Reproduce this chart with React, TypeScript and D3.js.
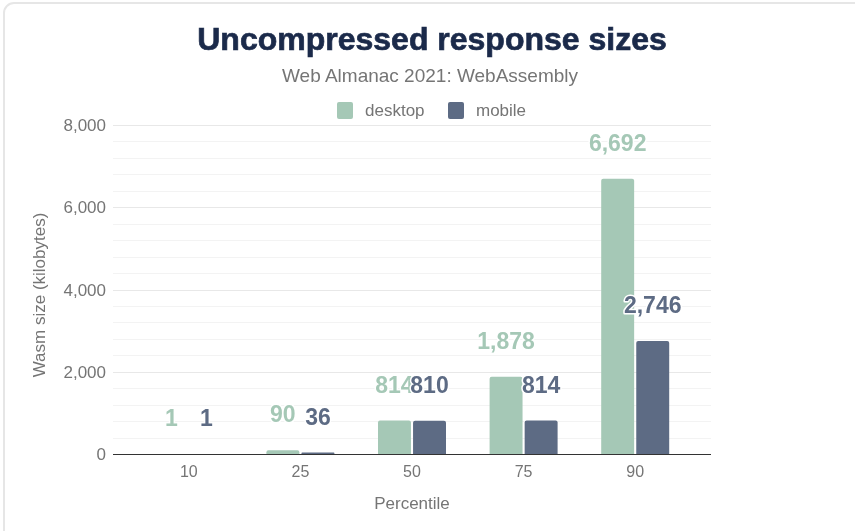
import * as d3 from "d3";
import { useEffect, useRef } from "react";

const percentiles = ["10", "25", "50", "75", "90"];
const desktop = [1, 90, 814, 1878, 6692];
const mobile = [1, 36, 810, 814, 2746];
const seriesNames = ["desktop", "mobile"];
const yTicks = [0, 2000, 4000, 6000, 8000];

const W = 855;
const H = 531;
const COLORS = ["#a5c8b6", "#5d6b84"];
const GRAY = "#757575";
const FONT = "'Liberation Sans', Arial, sans-serif";

export default function App() {
  const ref = useRef<SVGSVGElement | null>(null);

  useEffect(() => {
    if (!ref.current) return;
    const svg = d3.select(ref.current);
    svg.selectAll("*").remove();

    // card
    svg
      .append("rect")
      .attr("x", 4)
      .attr("y", 3)
      .attr("width", W + 10)
      .attr("height", H + 10)
      .attr("rx", 10)
      .attr("fill", "#fff")
      .attr("stroke", "#e6e6e6")
      .attr("stroke-width", 2);

    // titles
    svg
      .append("text")
      .attr("x", 432)
      .attr("y", 50)
      .attr("text-anchor", "middle")
      .attr("font-family", FONT)
      .attr("font-weight", 700)
      .attr("font-size", 32)
      .attr("fill", "#1b2a4a")
      .attr("stroke", "#1b2a4a")
      .attr("stroke-width", 0.7)
      .text("Uncompressed response sizes");

    svg
      .append("text")
      .attr("x", 430)
      .attr("y", 82)
      .attr("text-anchor", "middle")
      .attr("font-family", FONT)
      .attr("font-size", 19)
      .attr("fill", GRAY)
      .text("Web Almanac 2021: WebAssembly");

    // legend
    const legendX = [337, 448];
    seriesNames.forEach((name, i) => {
      const g = svg.append("g").attr("transform", `translate(${legendX[i]},102)`);
      g.append("rect")
        .attr("width", 16)
        .attr("height", 17)
        .attr("rx", 2)
        .attr("fill", COLORS[i]);
      g.append("text")
        .attr("x", 28)
        .attr("y", 14)
        .attr("font-family", FONT)
        .attr("font-size", 17)
        .attr("fill", GRAY)
        .text(name);
    });

    // scales
    const x = d3.scaleBand().domain(percentiles).range([133, 691]);
    const xSub = d3
      .scaleBand()
      .domain(seriesNames)
      .range([0, 68])
      .paddingInner(0.06);
    const y = d3.scaleLinear().domain([0, 8000]).range([454, 125]);
    const gridLeft = 113;
    const gridRight = 711;
    const barX = (i: number, si: number) =>
      (x(percentiles[i]) as number) + x.bandwidth() / 2 - 34 + (xSub(seriesNames[si]) as number);

    // grid
    const minor = d3.range(0, 8001, 400);
    svg
      .append("g")
      .selectAll("line")
      .data(minor)
      .join("line")
      .attr("x1", gridLeft)
      .attr("x2", gridRight)
      .attr("y1", (d) => Math.round(y(d)) + 0.5)
      .attr("y2", (d) => Math.round(y(d)) + 0.5)
      .attr("stroke", (d) => (d % 2000 === 0 ? "#e8e8e8" : "#f3f3f3"))
      .attr("stroke-width", 1);

    // y tick labels
    svg
      .append("g")
      .selectAll("text")
      .data(yTicks)
      .join("text")
      .attr("x", 106)
      .attr("y", (d) => y(d) + 6)
      .attr("text-anchor", "end")
      .attr("font-family", FONT)
      .attr("font-size", 17)
      .attr("fill", GRAY)
      .text((d) => d3.format(",")(d));

    // y title
    svg
      .append("text")
      .attr("transform", `translate(45,295) rotate(-90)`)
      .attr("text-anchor", "middle")
      .attr("font-family", FONT)
      .attr("font-size", 17)
      .attr("fill", GRAY)
      .text("Wasm size (kilobytes)");

    // bars
    const seriesData = [desktop, mobile];
    seriesData.forEach((vals, si) => {
      svg
        .append("g")
        .selectAll("path")
        .data(vals)
        .join("path")
        .attr("fill", COLORS[si])
        .attr("d", (d, i) => {
          const x0 = barX(i, si);
          const w = xSub.bandwidth();
          const top = y(d);
          const h = y(0) - top;
          const r = Math.min(2, h / 2);
          return `M${x0},${y(0)}V${top + r}Q${x0},${top} ${x0 + r},${top}H${x0 + w - r}Q${x0 + w},${top} ${x0 + w},${top + r}V${y(0)}Z`;
        });
    });

    // baseline
    svg
      .append("line")
      .attr("x1", gridLeft)
      .attr("x2", gridRight)
      .attr("y1", y(0) + 0.5)
      .attr("y2", y(0) + 0.5)
      .attr("stroke", "#333")
      .attr("stroke-width", 1);

    // value labels
    seriesData.forEach((vals, si) => {
      svg
        .append("g")
        .selectAll("text")
        .data(vals)
        .join("text")
        .attr("x", (_, i) => barX(i, si) + xSub.bandwidth() / 2)
        .attr("y", (d) => y(d) - 28)
        .attr("text-anchor", "middle")
        .attr("font-family", FONT)
        .attr("font-weight", 700)
        .attr("font-size", 23)
        .attr("fill", COLORS[si])
        .attr("stroke", "#fff")
        .attr("stroke-width", 3)
        .attr("stroke-linejoin", "round")
        .attr("paint-order", "stroke")
        .text((d) => d3.format(",")(d));
    });

    // x tick labels
    svg
      .append("g")
      .selectAll("text")
      .data(percentiles)
      .join("text")
      .attr("x", (d) => (x(d) as number) + x.bandwidth() / 2)
      .attr("y", 477)
      .attr("text-anchor", "middle")
      .attr("font-family", FONT)
      .attr("font-size", 16)
      .attr("fill", GRAY)
      .text((d) => d);

    // x title
    svg
      .append("text")
      .attr("x", 412)
      .attr("y", 509)
      .attr("text-anchor", "middle")
      .attr("font-family", FONT)
      .attr("font-size", 17)
      .attr("fill", GRAY)
      .text("Percentile");
  }, []);

  return (
    <div style={{ position: "fixed", left: 0, top: 0 }}>
      <svg ref={ref} width={W} height={H} style={{ display: "block" }} />
    </div>
  );
}
